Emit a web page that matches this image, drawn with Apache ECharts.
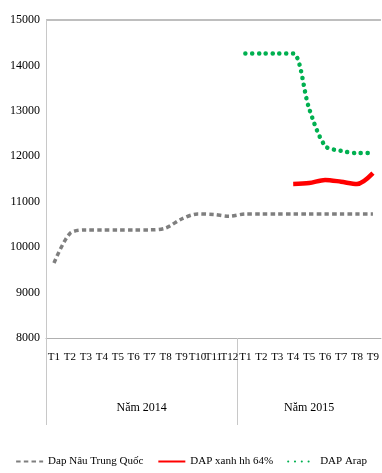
<!DOCTYPE html>
<html><head><meta charset="utf-8">
<script src="https://cdn.jsdelivr.net/npm/echarts@6/dist/echarts.min.js"></script>
<style>html,body{margin:0;padding:0;background:#fff}#c{width:382px;height:473px}</style>
</head><body><div id="c"></div>
<script>
const months = ['T1','T2','T3','T4','T5','T6','T7','T8','T9','T10','T11','T12','T1','T2','T3','T4','T5','T6','T7','T8','T9'];
const yearLabels = ['Năm 2014','Năm 2015'];
const yTicks = [8000,9000,10000,11000,12000,13000,14000,15000];
const dapNau = [9650,10300,10380,10380,10380,10380,10380,10420,10620,10730,10720,10680,10730,10730,10730,10730,10730,10730,10730,10730,10730];
const dapXanh = [null,null,null,null,null,null,null,null,null,null,null,null,null,null,null,11390,11410,11480,11440,11390,11630];
const dapArap = [null,null,null,null,null,null,null,null,null,null,null,null,14260,14260,14260,14260,13050,12230,12120,12070,12070];

const font = 'Liberation Serif';
const chart = echarts.init(document.getElementById('c'));
chart.setOption({
  animation:false,
  grid:{left:46,right:-1,top:20,bottom:135},
  legend:{bottom:1,left:'center',itemWidth:27,itemHeight:10,itemGap:14,
    itemStyle:{opacity:0},
    textStyle:{fontFamily:font,fontSize:11,color:'#000'},
    data:['Dap Nâu Trung Quốc','DAP xanh hh 64%','DAP Arap']},
  xAxis:[{
    type:'category',data:months,boundaryGap:true,
    axisLine:{lineStyle:{color:'#b0b0b0',width:1}},
    axisTick:{show:false},
    axisLabel:{interval:0,fontFamily:font,fontSize:11,color:'#000',margin:14}
  },{
    type:'value',min:0,max:21,position:'bottom',
    axisLine:{show:false},splitLine:{show:false},
    axisTick:{show:true,customValues:[0,12],length:87,lineStyle:{color:'#c8c8c8'}},
    axisLabel:{customValues:[6,16.5],margin:64,fontFamily:font,fontSize:12,color:'#000',
      formatter:(v)=> v<12 ? yearLabels[0] : yearLabels[1]}
  }],
  yAxis:{
    type:'value',min:8000,max:15000,interval:1000,
    axisLine:{show:true,lineStyle:{color:'#c8c8c8'}},axisTick:{show:false},
    axisLabel:{fontFamily:font,fontSize:12,color:'#000',margin:6,formatter:(v)=>yTicks.includes(v)?String(v):''},
    splitLine:{show:true,lineStyle:{color:['transparent','transparent','transparent','transparent','transparent','transparent','transparent','#a8a8a8'],width:1.5}}
  },
  series:[
    {name:'Dap Nâu Trung Quốc',type:'line',data:dapNau,smooth:0.3,symbol:'none',
      lineStyle:{color:'#7f7f7f',width:3.5,type:[4.5,3.2]},itemStyle:{color:'#7f7f7f'}},
    {name:'DAP xanh hh 64%',type:'line',data:dapXanh,smooth:0.3,symbol:'none',
      lineStyle:{color:'#ff0000',width:4.5},itemStyle:{color:'#ff0000'}},
    {name:'DAP Arap',type:'line',data:dapArap,smooth:0.3,symbol:'none',
      lineStyle:{color:'#00b050',width:4.5,type:[0.1,6.7],cap:'round'},itemStyle:{color:'#00b050'}}
  ]
});
</script></body></html>
